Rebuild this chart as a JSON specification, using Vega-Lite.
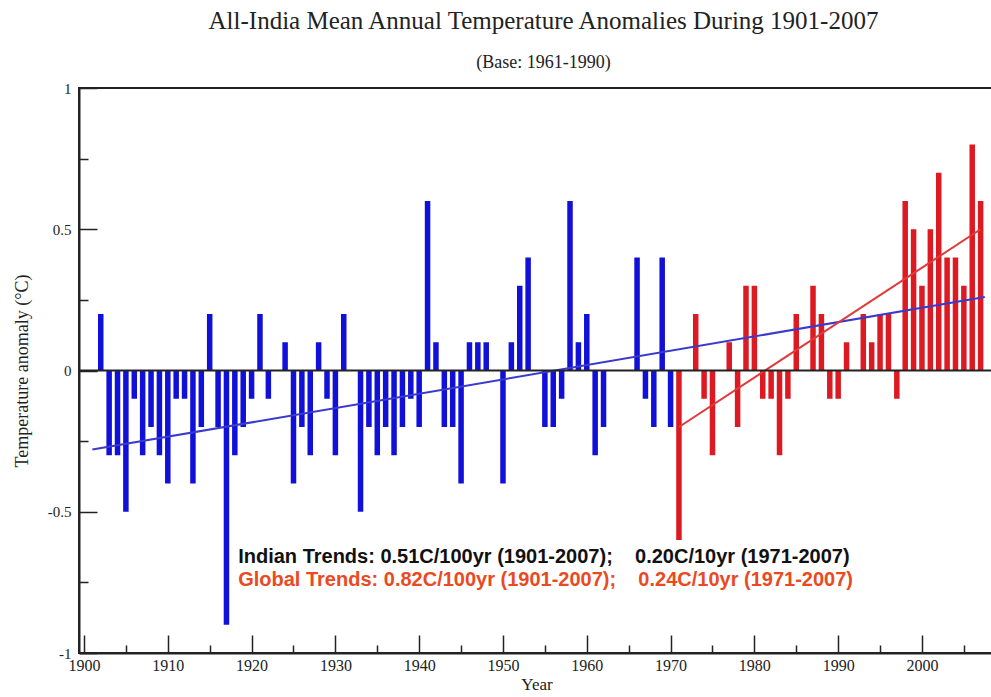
{
  "$schema": "https://vega.github.io/schema/vega-lite/v6.json",
  "autosize": {"type": "none"},
  "padding": {"left": 79, "top": 88, "right": 0, "bottom": 44},
  "width": 915,
  "height": 565,
  "background": "white",
  "config": {
    "view": {"stroke": "#222", "strokeWidth": 2},
    "font": "Liberation Serif"
  },
  "title": {
    "text": "All-India Mean Annual Temperature Anomalies  During 1901-2007",
    "subtitle": "(Base: 1961-1990)",
    "font": "Liberation Serif",
    "fontSize": 25,
    "fontWeight": "normal",
    "color": "#222",
    "subtitleFont": "Liberation Serif",
    "subtitleFontSize": 18,
    "subtitleColor": "#222",
    "subtitlePadding": 20,
    "offset": 9,
    "anchor": "middle",
    "dx": 7
  },
  "datasets": {
    "anom": [
      {"year": 1902, "value": 0.2}, {"year": 1903, "value": -0.3}, {"year": 1904, "value": -0.3},
      {"year": 1905, "value": -0.5}, {"year": 1906, "value": -0.1}, {"year": 1907, "value": -0.3},
      {"year": 1908, "value": -0.2}, {"year": 1909, "value": -0.3}, {"year": 1910, "value": -0.4},
      {"year": 1911, "value": -0.1}, {"year": 1912, "value": -0.1}, {"year": 1913, "value": -0.4},
      {"year": 1914, "value": -0.2}, {"year": 1915, "value": 0.2}, {"year": 1916, "value": -0.2},
      {"year": 1917, "value": -0.9}, {"year": 1918, "value": -0.3}, {"year": 1919, "value": -0.2},
      {"year": 1920, "value": -0.1}, {"year": 1921, "value": 0.2}, {"year": 1922, "value": -0.1},
      {"year": 1923, "value": 0}, {"year": 1924, "value": 0.1}, {"year": 1925, "value": -0.4},
      {"year": 1926, "value": -0.2}, {"year": 1927, "value": -0.3}, {"year": 1928, "value": 0.1},
      {"year": 1929, "value": -0.1}, {"year": 1930, "value": -0.3}, {"year": 1931, "value": 0.2},
      {"year": 1932, "value": 0}, {"year": 1933, "value": -0.5}, {"year": 1934, "value": -0.2},
      {"year": 1935, "value": -0.3}, {"year": 1936, "value": -0.2}, {"year": 1937, "value": -0.3},
      {"year": 1938, "value": -0.2}, {"year": 1939, "value": -0.1}, {"year": 1940, "value": -0.2},
      {"year": 1941, "value": 0.6}, {"year": 1942, "value": 0.1}, {"year": 1943, "value": -0.2},
      {"year": 1944, "value": -0.2}, {"year": 1945, "value": -0.4}, {"year": 1946, "value": 0.1},
      {"year": 1947, "value": 0.1}, {"year": 1948, "value": 0.1}, {"year": 1949, "value": 0},
      {"year": 1950, "value": -0.4}, {"year": 1951, "value": 0.1}, {"year": 1952, "value": 0.3},
      {"year": 1953, "value": 0.4}, {"year": 1954, "value": 0}, {"year": 1955, "value": -0.2},
      {"year": 1956, "value": -0.2}, {"year": 1957, "value": -0.1}, {"year": 1958, "value": 0.6},
      {"year": 1959, "value": 0.1}, {"year": 1960, "value": 0.2}, {"year": 1961, "value": -0.3},
      {"year": 1962, "value": -0.2}, {"year": 1963, "value": 0}, {"year": 1964, "value": 0},
      {"year": 1965, "value": 0}, {"year": 1966, "value": 0.4}, {"year": 1967, "value": -0.1},
      {"year": 1968, "value": -0.2}, {"year": 1969, "value": 0.4}, {"year": 1970, "value": -0.2},
      {"year": 1971, "value": -0.6}, {"year": 1972, "value": 0}, {"year": 1973, "value": 0.2},
      {"year": 1974, "value": -0.1}, {"year": 1975, "value": -0.3}, {"year": 1976, "value": 0},
      {"year": 1977, "value": 0.1}, {"year": 1978, "value": -0.2}, {"year": 1979, "value": 0.3},
      {"year": 1980, "value": 0.3}, {"year": 1981, "value": -0.1}, {"year": 1982, "value": -0.1},
      {"year": 1983, "value": -0.3}, {"year": 1984, "value": -0.1}, {"year": 1985, "value": 0.2},
      {"year": 1986, "value": 0}, {"year": 1987, "value": 0.3}, {"year": 1988, "value": 0.2},
      {"year": 1989, "value": -0.1}, {"year": 1990, "value": -0.1}, {"year": 1991, "value": 0.1},
      {"year": 1992, "value": 0}, {"year": 1993, "value": 0.2}, {"year": 1994, "value": 0.1},
      {"year": 1995, "value": 0.2}, {"year": 1996, "value": 0.2}, {"year": 1997, "value": -0.1},
      {"year": 1998, "value": 0.6}, {"year": 1999, "value": 0.5}, {"year": 2000, "value": 0.3},
      {"year": 2001, "value": 0.5}, {"year": 2002, "value": 0.7}, {"year": 2003, "value": 0.4},
      {"year": 2004, "value": 0.4}, {"year": 2005, "value": 0.3}, {"year": 2006, "value": 0.8},
      {"year": 2007, "value": 0.6}
    ],
    "trend": [
      {"series": "India", "year": 1901, "value": -0.28},
      {"series": "India", "year": 2007.5, "value": 0.26},
      {"series": "Recent", "year": 1971, "value": -0.2},
      {"series": "Recent", "year": 2007, "value": 0.5}
    ],
    "notes": [
      {"label": "Indian Trends: 0.51C/100yr (1901-2007);\u00a0\u00a0\u00a0 0.20C/10yr (1971-2007)", "group": "India"},
      {"label": "Global Trends: 0.82C/100yr (1901-2007);\u00a0\u00a0\u00a0 0.24C/10yr (1971-2007)", "group": "Global"}
    ]
  },
  "resolve": {"axis": {"x": "independent", "y": "independent"}},
  "layer": [
    {
      "data": {"name": "anom"},
      "mark": {"type": "bar", "size": 5.5},
      "encoding": {
        "x": {
          "field": "year", "type": "quantitative",
          "scale": {"domain": [1900, 2008], "nice": false, "zero": false},
          "axis": {
            "orient": "bottom",
            "title": "Year",
            "titleFont": "Liberation Serif", "titleFontSize": 17, "titleFontWeight": "normal", "titleColor": "#222",
            "titlePadding": 3,
            "values": [1900,1910,1920,1930,1940,1950,1960,1970,1980,1990,2000],
            "format": "d",
            "labelFont": "Liberation Serif", "labelFontSize": 16, "labelColor": "#222",
            "labelPadding": 22,
            "labelFlush": false,
            "domainColor": "#222", "domainWidth": 2,
            "tickColor": "#222", "tickWidth": 1.5, "tickSize": -18,
            "grid": false
          }
        },
        "y": {
          "field": "value", "type": "quantitative",
          "scale": {"domain": [-1, 1], "nice": false},
          "axis": {
            "orient": "left",
            "title": "Temperature anomaly (°C)",
            "titleFont": "Liberation Serif", "titleFontSize": 18, "titleFontWeight": "normal", "titleColor": "#222",
            "titlePadding": 16,
            "values": [-1, -0.5, 0, 0.5, 1],
            "labelExpr": "toString(datum.value)",
            "labelFont": "Liberation Serif", "labelFontSize": 15, "labelColor": "#222",
            "labelPadding": 26,
            "domainColor": "#222", "domainWidth": 2,
            "tickColor": "#222", "tickWidth": 1.5, "tickSize": -18,
            "grid": false
          }
        },
        "color": {
          "condition": {"test": "datum.year <= 1970", "value": "#1010d8"},
          "value": "#dd1a22"
        }
      }
    },
    {
      "data": {"name": "trend"},
      "mark": {"type": "line", "strokeWidth": 2},
      "encoding": {
        "x": {
          "field": "year", "type": "quantitative",
          "axis": {
            "orient": "bottom", "title": null, "labels": false, "domain": false,
            "values": [1905,1915,1925,1935,1945,1955,1965,1975,1985,1995,2005],
            "tickColor": "#222", "tickWidth": 1.5, "tickSize": -8, "grid": false
          }
        },
        "y": {
          "field": "value", "type": "quantitative",
          "axis": {
            "orient": "left", "title": null, "labels": false, "domain": false,
            "values": [-0.75, -0.25, 0.25, 0.75],
            "tickColor": "#222", "tickWidth": 1.5, "tickSize": -9, "grid": false
          }
        },
        "detail": {"field": "series"},
        "color": {
          "field": "series", "type": "nominal",
          "scale": {"domain": ["India", "Recent"], "range": ["#3a3acc", "#e03a3a"]},
          "legend": null
        }
      }
    },
    {
      "data": {"values": [{"zero": 0}]},
      "mark": {"type": "rule", "color": "#222", "strokeWidth": 2},
      "encoding": {"y": {"field": "zero", "type": "quantitative", "axis": null}}
    },
    {
      "data": {"name": "notes"},
      "transform": [{"filter": "datum.group == 'India'"}],
      "mark": {"type": "text", "align": "left", "baseline": "middle", "font": "Liberation Sans", "fontSize": 20, "fontWeight": "bold", "fill": "#111"},
      "encoding": {
        "x": {"datum": 1918.4, "axis": null},
        "y": {"datum": -0.66, "axis": null},
        "text": {"field": "label"}
      }
    },
    {
      "data": {"name": "notes"},
      "transform": [{"filter": "datum.group == 'Global'"}],
      "mark": {"type": "text", "align": "left", "baseline": "middle", "font": "Liberation Sans", "fontSize": 20, "fontWeight": "bold", "fill": "#ea4a22"},
      "encoding": {
        "x": {"datum": 1918.4, "axis": null},
        "y": {"datum": -0.74, "axis": null},
        "text": {"field": "label"}
      }
    }
  ]
}
